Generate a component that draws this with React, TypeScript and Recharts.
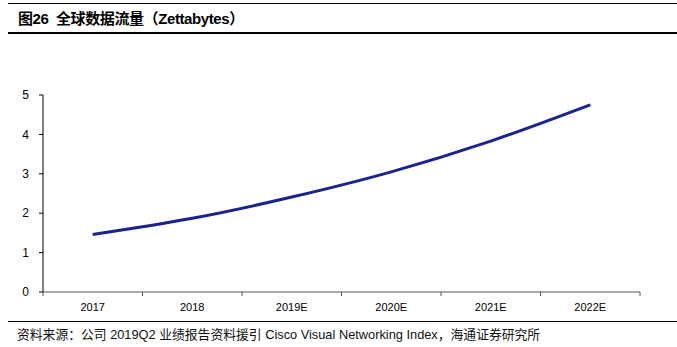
import { LineChart, Line, XAxis, YAxis } from "recharts";

const categories = ["2017", "2018", "2019E", "2020E", "2021E", "2022E"];
const traffic = [1.46, 1.87, 2.41, 3.05, 3.83, 4.75];
const yTicks = [0, 1, 2, 3, 4, 5];

const data = categories.map((c, i) => ({ idx: i, name: c, value: traffic[i] }));
// boundaries between categories plus the category centres
const xTicks = categories.flatMap((_, i) => [i - 0.5, i]).concat([categories.length - 0.5]);

const latin = "'Liberation Sans', Arial, sans-serif";
const cjk = "'Liberation Sans', 'Noto Sans CJK SC', sans-serif";

function XTick(props: any) {
  const { x, y, payload } = props;
  const v = payload.value;
  if (Number.isInteger(v)) {
    return (
      <text x={x} y={y + 19} textAnchor="middle" fontSize={11} fill="#000" fontFamily={latin}>
        {categories[v]}
      </text>
    );
  }
  return <line x1={x} y1={y} x2={x} y2={y + 4} stroke="#555" strokeWidth={1} />;
}

export default function App() {
  return (
    <div
      style={{
        position: "absolute",
        left: 0,
        top: 0,
        width: 677,
        height: 347,
        background: "#fff",
        overflow: "hidden",
      }}
    >
      <div style={{ position: "absolute", left: 8, right: 0, top: 3, borderTop: "1px solid #000" }} />
      <div
        style={{
          position: "absolute",
          left: 18,
          top: 9,
          fontSize: 15,
          fontWeight: 700,
          fontFamily: cjk,
          lineHeight: "20px",
          letterSpacing: -0.4,
          color: "#000",
          whiteSpace: "nowrap",
        }}
      >
        图26&nbsp;&nbsp;全球数据流量（Zettabytes）
      </div>
      <div style={{ position: "absolute", left: 8, right: 0, top: 32, borderTop: "2px solid #000" }} />

      <div style={{ position: "absolute", left: 0, top: 0 }}>
        <LineChart width={677} height={347} data={data} margin={{ top: 95, right: 37, bottom: 25, left: 0 }}>
          <XAxis
            dataKey="idx"
            type="number"
            domain={[-0.5, 5.5]}
            ticks={xTicks}
            interval={0}
            tickLine={false}
            tickSize={0}
            tickMargin={0}
            height={30}
            axisLine={{ stroke: "#555" }}
            tick={<XTick />}
          />
          <YAxis
            domain={[0, 5]}
            ticks={yTicks}
            interval={0}
            width={43}
            tickSize={4}
            tickMargin={10}
            axisLine={{ stroke: "#000" }}
            tickLine={{ stroke: "#000" }}
            tick={{ fontSize: 12, fill: "#000", fontFamily: latin }}
          />
          <Line
            type="monotone"
            dataKey="value"
            stroke="#1b2190"
            strokeWidth={3}
            dot={false}
            isAnimationActive={false}
          />
        </LineChart>
      </div>

      <div style={{ position: "absolute", left: 8, right: 0, top: 321, borderTop: "1px solid #000" }} />
      <div
        style={{
          position: "absolute",
          left: 17,
          top: 326,
          fontSize: 12.8,
          fontFamily: cjk,
          lineHeight: "18px",
          color: "#111",
          whiteSpace: "nowrap",
        }}
      >
        资料来源：公司 2019Q2 业绩报告资料援引 Cisco Visual Networking Index，海通证券研究所
      </div>
    </div>
  );
}
